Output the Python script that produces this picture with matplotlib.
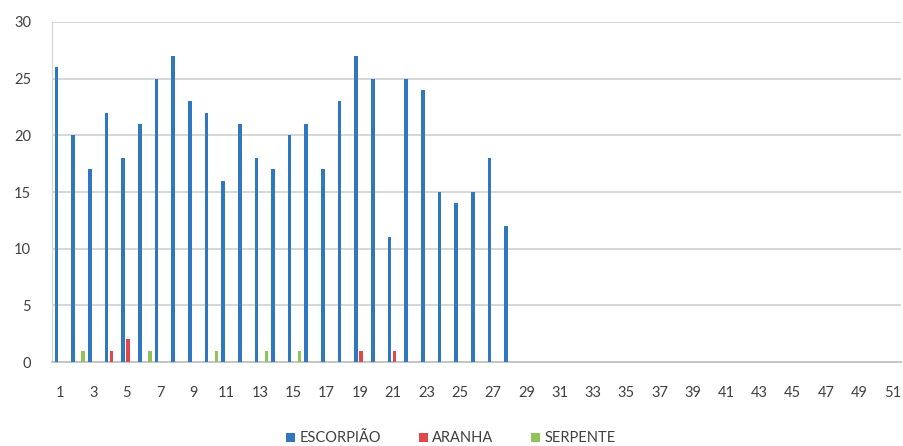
import numpy as np
import matplotlib.pyplot as plt

# Cases per week (1..51), three kinds of venomous animal
weeks = list(range(1, 52))
escorpiao = [26, 20, 17, 22, 18, 21, 25, 27, 23, 22, 16, 21, 18, 17,
             20, 21, 17, 23, 27, 25, 11, 25, 24, 15, 14, 15, 18, 12]
aranha_weeks = [4, 5, 19, 21]
aranha_vals = [1, 2, 1, 1]
serpente_weeks = [2, 6, 10, 13, 15]
serpente_vals = [1, 1, 1, 1, 1]
series_names = ['ESCORPIÃO', 'ARANHA', 'SERPENTE']
colors = ['#2f78c0', '#e0474c', '#92c35a']

# pad each series out to all 51 weeks
esc = np.zeros(len(weeks))
esc[:len(escorpiao)] = escorpiao
ara = np.zeros(len(weeks))
for w, v in zip(aranha_weeks, aranha_vals):
    ara[w - 1] = v
ser = np.zeros(len(weeks))
for w, v in zip(serpente_weeks, serpente_vals):
    ser[w - 1] = v

plt.rcParams['font.family'] = ['Lato', 'DejaVu Sans']

fig = plt.figure(figsize=(9.04, 4.46), dpi=100)
ax = fig.add_axes([0.0575, 0.188, 0.939, 0.763])

x = np.array(weeks)
w = 0.22
offsets = [-0.22, 0.08, 0.38]
for vals, off, c, name in zip([esc, ara, ser], offsets, colors, series_names):
    ax.bar(x + off, vals, width=w, color=c, label=name, zorder=3)

ax.set_xlim(0.5, 51.5)
ax.set_ylim(0, 30)
ax.set_yticks(range(0, 31, 5))
ax.set_xticks(weeks[::2])
ax.set_xticklabels([str(i) for i in weeks[::2]])
ax.tick_params(axis='both', length=0, labelsize=10.5, colors='#404040')
ax.tick_params(axis='x', pad=17)
ax.tick_params(axis='y', pad=15)

ax.grid(axis='y', color='#d3d3d3', linewidth=1.3, zorder=0)
for s in ['top', 'right']:
    ax.spines[s].set_visible(False)
ax.spines['left'].set_color('#d3d3d3')
ax.spines['bottom'].set_color('#c4c4c4')
ax.spines['bottom'].set_linewidth(1.4)

ax.legend(loc='upper center', bbox_to_anchor=(0.47, -0.165), ncol=3,
          frameon=False, fontsize=10.5, handlelength=0.6, handleheight=0.6,
          handletextpad=0.3, columnspacing=2.6, labelcolor='#404040')

fig.savefig('out.png', dpi=100)
